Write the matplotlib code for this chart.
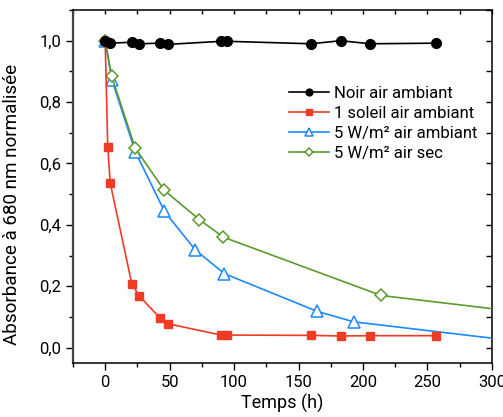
import matplotlib
matplotlib.use("Agg")
import matplotlib.pyplot as plt
from matplotlib.ticker import FuncFormatter, MultipleLocator

plt.rcParams['font.family'] = ['Roboto', 'DejaVu Sans']

# Data
t_noir = [0, 3.9, 20.7, 26.6, 42.6, 48.6, 89.9, 94.8, 159.7, 182.7, 205.4, 257]
y_noir = [1.0, 0.992, 0.995, 0.99, 0.992, 0.988, 0.998, 0.998, 0.99, 1.0, 0.99, 0.992]

t_soleil = [0, 2, 3.9, 20.7, 26.6, 42.6, 48.6, 89.9, 94.8, 159.7, 182.7, 205.4, 257]
y_soleil = [1.0, 0.655, 0.537, 0.207, 0.168, 0.096, 0.078, 0.041, 0.041, 0.04, 0.038, 0.039, 0.039]

t_5w = [0, 5.2, 23.3, 46, 69.8, 92.5, 164.6, 193, 330]
y_5w = [1.0, 0.873, 0.639, 0.444, 0.319, 0.241, 0.118, 0.084, 0.016]

t_sec = [0, 5, 23.3, 46, 73.1, 91.7, 214, 330]
y_sec = [1.0, 0.885, 0.650, 0.512, 0.417, 0.36, 0.170, 0.112]

labels = ["Noir air ambiant", "1 soleil air ambiant", "5 W/m² air ambiant", "5 W/m² air sec"]

fig = plt.figure(figsize=(5.03, 4.17), dpi=100)
ax = fig.add_axes([0.145, 0.1295, 0.833, 0.8465])

ax.plot(t_noir, y_noir, color='black', marker='o', ms=7, lw=1.2, label=labels[0], zorder=5)
ax.plot(t_soleil, y_soleil, color='#ee3b24', marker='s', ms=6, lw=1.2, label=labels[1], zorder=4)
ax.plot(t_5w, y_5w, color='#1e88ff', marker='^', ms=8, mfc='white', mew=1.1, lw=1.2, label=labels[2], zorder=3)
ax.plot(t_sec, y_sec, color='#5b9a2c', marker='D', ms=6.5, mfc='white', mew=1.1, lw=1.2, label=labels[3], zorder=3)

ax.set_xlim(-25, 300)
ax.set_ylim(-0.05, 1.1)
ax.xaxis.set_major_locator(MultipleLocator(50))
ax.xaxis.set_minor_locator(MultipleLocator(25))
ax.yaxis.set_major_locator(MultipleLocator(0.2))
ax.yaxis.set_minor_locator(MultipleLocator(0.1))
ax.yaxis.set_major_formatter(FuncFormatter(lambda v, p: f"{v:.1f}".replace('.', ',')))

ax.tick_params(axis='both', which='major', direction='out', length=5, width=1, labelsize=12, colors='black')
ax.tick_params(axis='both', which='minor', direction='out', length=3, width=1)
ax.tick_params(top=True, right=True, which='both')
for t in ax.xaxis.get_major_ticks() + ax.xaxis.get_minor_ticks():
    t.tick2line.set_marker(matplotlib.lines.TICKDOWN)
    t.tick2line.set_markersize(3)
for t in ax.yaxis.get_major_ticks() + ax.yaxis.get_minor_ticks():
    t.tick2line.set_marker(matplotlib.lines.TICKLEFT)
    t.tick2line.set_markersize(4)

for s in ax.spines.values():
    s.set_linewidth(1.1)
ax.spines['left'].set_linewidth(1.6)
ax.spines['left'].set_color('#444444')

ax.set_xlabel("Temps (h)", fontsize=13, labelpad=3)
ax.set_ylabel("Absorbance à 680 nm normalisée", fontsize=13.6)
ax.yaxis.set_label_coords(-0.125, 0.448)

ax.legend(loc='upper left', bbox_to_anchor=(0.5, 0.805), frameon=False, fontsize=12,
          handlelength=2.4, handletextpad=0.3, labelspacing=0.3, borderaxespad=0,
          markerscale=0.7)

fig.savefig("out.png", dpi=100)
